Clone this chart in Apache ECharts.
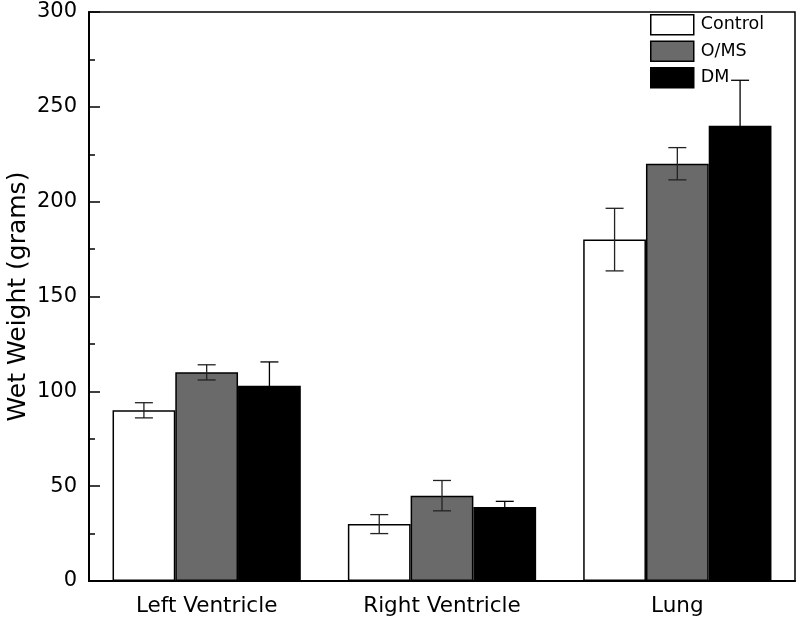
<!DOCTYPE html>
<html><head><meta charset="utf-8">
<script src="https://cdn.jsdelivr.net/npm/echarts@6/dist/echarts.min.js"></script>
<style>html,body{margin:0;padding:0;background:#fff}#c{width:800px;height:620px}</style>
</head><body><div id="c"></div>
<script>
var categories = ['Left Ventricle', 'Right Ventricle', 'Lung'];
var seriesNames = ['Control', 'O/MS', 'DM'];
var controlVals = [90, 30, 180];
var omsVals = [110, 45, 220];
var dmVals = [103, 39, 240];
var controlErr = [4, 5, 16.5];
var omsErr = [4, 8, 8.5];
var dmErr = [12.5, 3, 24];
var yTicks = [0, 50, 100, 150, 200, 250, 300];

var colors = ['#ffffff', '#6a6a6a', '#000000'];
var vals = [controlVals, omsVals, dmVals];
var errs = [controlErr, omsErr, dmErr];
var gapFrac = 0.2;
var FONT = 'DejaVu Sans';

var chart = echarts.init(document.getElementById('c'));
var series = [];
seriesNames.forEach(function(n, i){
  series.push({
    name: n, type: 'bar', data: vals[i],
    barGap: 0, barCategoryGap: (gapFrac*100)+'%',
    itemStyle: {color: colors[i], borderColor: '#000', borderWidth: 1.5},
    emphasis: {disabled: true}
  });
});
seriesNames.forEach(function(n, i){
  var data = vals[i].map(function(v, k){ return [k, v - errs[i][k], v + errs[i][k]]; });
  series.push({
    type: 'custom', z: 10, silent: true,
    data: data,
    encode: {x: 0, y: [1, 2]},
    renderItem: function(params, api){
      var k = api.value(0);
      var catW = api.size([1, 0])[0];
      var bw = catW * (1 - gapFrac) / 3;
      var lo = api.coord([k, api.value(1)]);
      var hi = api.coord([k, api.value(2)]);
      var x = lo[0] + (i - 1) * bw;
      var cap = 9;
      var st = {stroke: i === 2 ? '#000' : '#222', lineWidth: 1.3, fill: null};
      return {type: 'group', children: [
        {type: 'line', shape: {x1: x, y1: lo[1], x2: x, y2: hi[1]}, style: st},
        {type: 'line', shape: {x1: x - cap, y1: lo[1], x2: x + cap, y2: lo[1]}, style: st},
        {type: 'line', shape: {x1: x - cap, y1: hi[1], x2: x + cap, y2: hi[1]}, style: st}
      ]};
    }
  });
});

chart.setOption({
  animation: false,
  grid: {left: 89, right: 5, top: 12, bottom: 39, show: true, borderColor: '#000', borderWidth: 1.5,
         containLabel: false, outerBoundsMode: 'none'},
  legend: {
    data: seriesNames.map(function(n){ return {name: n, icon: 'rect'}; }),
    orient: 'vertical', left: 650, top: 14, padding: 0,
    itemWidth: 43, itemHeight: 20, itemGap: 5,
    textStyle: {fontFamily: FONT, fontSize: 17.5, color: '#000', padding: [2, 0, 0, 2]},
    itemStyle: {borderColor: '#000', borderWidth: 1.5}
  },
  xAxis: {
    type: 'category', data: categories,
    axisLine: {lineStyle: {color: '#000', width: 2}},
    axisTick: {show: false},
    axisLabel: {fontFamily: FONT, fontSize: 21.5, color: '#000', margin: 14}
  },
  yAxis: {
    type: 'value', min: 0, max: 300, interval: 50,
    name: 'Wet Weight (grams)', nameLocation: 'middle', nameGap: 58, nameMoveOverlap: false,
    nameTextStyle: {fontFamily: FONT, fontSize: 25, color: '#000'},
    axisLine: {show: true, lineStyle: {color: '#000', width: 2}},
    axisTick: {show: true, inside: true, length: 11, lineStyle: {color: '#000', width: 1.5}},
    minorTick: {show: true, splitNumber: 2, length: 6, lineStyle: {color: '#000', width: 1.5}},
    splitLine: {show: false},
    axisLabel: {fontFamily: FONT, fontSize: 21, color: '#000', margin: 12,
      formatter: function(v){ return yTicks.indexOf(v) >= 0 ? String(v) : ''; }}
  },
  series: series
});
</script></body></html>
